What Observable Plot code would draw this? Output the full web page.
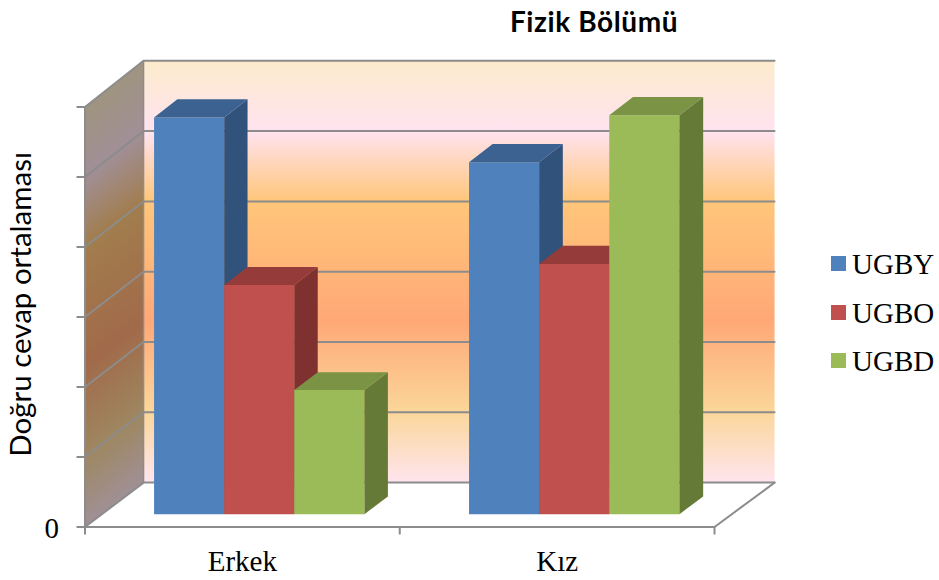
<!DOCTYPE html>
<html lang="tr">
<head>
<meta charset="utf-8">
<title>Fizik Bölümü</title>
<script src="https://cdn.jsdelivr.net/npm/d3@7"></script>
<script src="https://cdn.jsdelivr.net/npm/@observablehq/plot@0.6"></script>
<style>
  html, body { margin: 0; padding: 0; background: #fff; }
  #chart { position: relative; width: 939px; height: 580px; overflow: hidden; }
  #chart svg { position: absolute; left: 0; top: 0; }
  .title { position: absolute; left: 440px; width: 308px; top: 4px; text-align: center;
           font: 700 28px "Lato", sans-serif; letter-spacing: 0.6px; color: #000; }
  .legend { position: absolute; left: 831px; top: 0; font: 29px "Liberation Serif", serif; color: #000; }
  .legend div { position: absolute; left: 0; white-space: nowrap; line-height: 34px; height: 34px; }
  .legend i { position: absolute; left: 0; top: 9px; width: 15px; height: 15px; }
  .legend span { position: absolute; left: 21px; top: 0; }
</style>
</head>
<body>
<div id="chart"></div>
<script>
// Mean correct answers per gender, one array per exam series.
const categories = ["Erkek", "Kız"];
const seriesNames = ["UGBY", "UGBO", "UGBD"];
const UGBY = [5.66, 5.02];
const UGBO = [3.27, 3.57];
const UGBD = [1.77, 5.69];
const yTicks = [0, 1, 2, 3, 4, 5, 6];

const values = [UGBY, UGBO, UGBD];
const fronts = ["#4f81bd", "#c0504d", "#9bbb59"];
const tops = ["#3c6291", "#953b39", "#7a9345"];
const sides = ["#31527b", "#7f312f", "#667a38"];

// Slightly perspective oblique projection: depth z in [0, 1] shifts and widens along both scales.
const pt = (x, v, z) => ({
  x: x * (1 + 0.0024 * z) + 0.186 * z,
  y: v * (1 + 0.0043 * z) + 0.634 * z
});

const barWidth = 0.2226, barInset = 0.1654, zFront = 0.29, zBack = 0.687;

const face = (points, fill) => Plot.line(points, {x: "x", y: "y", fill, stroke: "none"});
const edge = (points, strokeWidth = 2) => Plot.line(points, {x: "x", y: "y", stroke: "#8c8c8c", strokeWidth});

const barMarks = [];
categories.forEach((_, c) => {
  values.forEach((series, s) => {
    const x0 = c + barInset + s * barWidth, x1 = x0 + barWidth, v = series[c];
    barMarks.push(
      face([pt(x0, 0, zFront), pt(x1, 0, zFront), pt(x1, v, zFront), pt(x0, v, zFront)], fronts[s]),
      face([pt(x1, 0, zFront), pt(x1, 0, zBack), pt(x1, v, zBack), pt(x1, v, zFront)], sides[s]),
      face([pt(x0, v, zFront), pt(x1, v, zFront), pt(x1, v, zBack), pt(x0, v, zBack)], tops[s])
    );
  });
});

const yMax = 6;
const plot = Plot.plot({
  width: 939,
  height: 580,
  marginLeft: 84.5,
  marginRight: 225,
  marginTop: 106.5,
  marginBottom: 53.5,
  x: {domain: [0, 2], axis: null},
  y: {domain: [0, yMax], axis: null},
  marks: [
    // Back wall, side wall and floor
    face([pt(0, 0, 1), pt(2, 0, 1), pt(2, yMax, 1), pt(0, yMax, 1)], "url(#backWall)"),
    face([pt(0, 0, 0), pt(0, 0, 1), pt(0, yMax, 1), pt(0, yMax, 0)], "url(#sideWall)"),
    // Gridlines run along the side wall and across the back wall
    ...yTicks.map(v => edge([pt(0, v, 0), pt(0, v, 1), pt(2, v, 1)])),
    edge([pt(0, 0, 0), pt(0, yMax, 0)]),
    edge([pt(0, 0, 1), pt(0, yMax, 1)], 1.5),
    edge([pt(0, 0, 0), pt(2, 0, 0), pt(2, 0, 1)]),
    ...barMarks,
    Plot.axisY({
      ticks: yTicks, tickSize: 8, strokeWidth: 2, stroke: "#8c8c8c",
      tickFormat: () => "", label: null
    }),
    Plot.axisY({
      ticks: [0], tickSize: 0, tickPadding: 26, fill: "#000", dy: 2,
      tickFormat: d => String(d), fontSize: 29, fontFamily: "Liberation Serif", label: null
    }),
    Plot.axisX({
      ticks: [0, 1, 2], tickSize: 8, strokeWidth: 2, stroke: "#8c8c8c",
      tickFormat: () => "", label: null
    }),
    Plot.axisX({
      ticks: [0.5, 1.5], tickSize: 0, tickPadding: 23, fill: "#000",
      tickFormat: d => categories[Math.floor(d)], fontSize: 29, fontFamily: "Liberation Serif", label: null
    }),
    Plot.text(["Doğru cevap ortalaması"], {
      text: d => d, frameAnchor: "left", textAnchor: "middle", dx: -63, y: [3.18], rotate: -90,
      fontSize: 29.5, fontFamily: "Lato", fill: "#000"
    })
  ]
});

// Wall gradients: the side wall repeats the back wall's bands, darkened and sheared.
const stops = [
  [0, "#fcebcb"], [0.166, "#ffe3f0"], [0.333, "#ffc67a"],
  [0.615, "#ffa876"], [0.833, "#fbd69a"], [1, "#fee5ee"]
];
const defs = d3.select(plot).insert("defs", ":first-child");
const back = defs.append("linearGradient").attr("id", "backWall")
  .attr("x1", 0).attr("y1", 0).attr("x2", 0).attr("y2", 1);
stops.forEach(([o, c]) => back.append("stop").attr("offset", o).attr("stop-color", c));

const sx = plot.scale("x"), sy = plot.scale("y");
const gx = sx.apply(0), gy = sy.apply(yMax), wallH = sy.apply(0) - gy;
const depthEnd = pt(0, 0, 1);
const dx = sx.apply(depthEnd.x) - sx.apply(0), dy = sy.apply(0) - sy.apply(depthEnd.y);
const k = wallH * dx / (dx * dx + dy * dy);
const side = defs.append("linearGradient").attr("id", "sideWall")
  .attr("gradientUnits", "userSpaceOnUse")
  .attr("x1", gx).attr("y1", gy)
  .attr("x2", gx + k * dy).attr("y2", gy + k * dx);
stops.forEach(([o, c]) => side.append("stop").attr("offset", o)
  .attr("stop-color", d3.interpolateRgb(c, "#000")(0.37)));

const chart = document.getElementById("chart");
chart.append(plot);

// Title and legend sit over the empty parts of the figure
const title = document.createElement("div");
title.className = "title";
title.textContent = "Fizik Bölümü";
chart.append(title);

const legend = document.createElement("div");
legend.className = "legend";
seriesNames.forEach((name, i) => {
  const row = document.createElement("div");
  row.style.top = (247 + i * 48.5) + "px";
  const swatch = document.createElement("i");
  swatch.style.background = fronts[i];
  const label = document.createElement("span");
  label.textContent = name;
  row.append(swatch, label);
  legend.append(row);
});
chart.append(legend);
</script>
</body>
</html>
